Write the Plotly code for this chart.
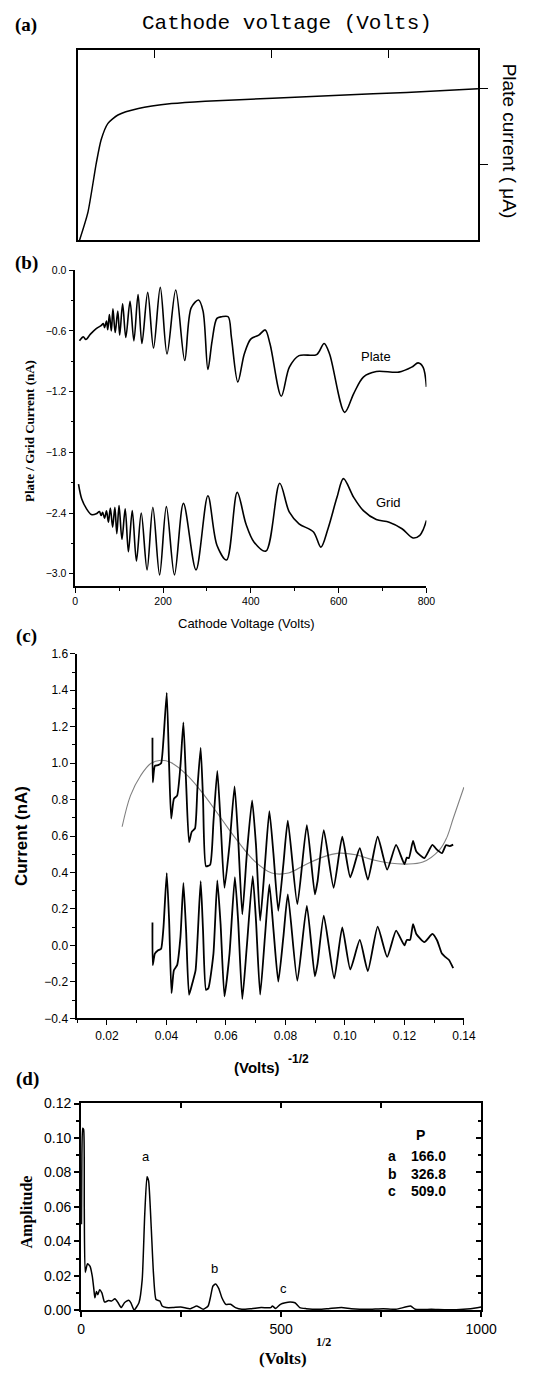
import plotly.graph_objects as go

W, H = 546, 1374

# ---------------- data ----------------
# (a) characteristic curve (arbitrary units)
a_voltage = [5, 26, 47, 59, 76, 101, 152, 235, 319, 487, 654, 822, 1000]
a_current = [0.0, 0.147, 0.407, 0.529, 0.615, 0.659, 0.693, 0.719, 0.732, 0.747, 0.763, 0.778, 0.797]
a_xticks = [193, 485, 777]
a_yticks = [0.4, 0.8]

# (b) plate / grid current vs cathode voltage
plate_v = [9.5, 18.3, 24.2, 34.5, 47.7, 58.7, 63.8, 66.7, 71.1, 74.0, 77.7, 82.1, 85.8, 90.9, 96.8,
           101.2, 107.8, 115.1, 124.7, 133.5, 143.0, 151.8, 165.0, 178.2, 193.6, 209.0, 228.8,
           249.3, 264.0, 280.9, 291.1, 302.1, 311.7, 322.7, 333.7, 348.3, 355.7, 370.3, 385.0,
           399.7, 418.0, 432.7, 443.7, 469.3, 487.7, 509.7, 550.0, 566.9, 579.3, 613.8, 634.3,
           656.3, 685.7, 737.0, 766.3, 781.0, 792.5, 800.0]
plate_i = [-0.698, -0.659, -0.685, -0.632, -0.577, -0.548, -0.528, -0.567, -0.502, -0.587, -0.437,
           -0.600, -0.382, -0.616, -0.404, -0.642, -0.333, -0.665, -0.307, -0.698, -0.241, -0.724,
           -0.219, -0.769, -0.170, -0.828, -0.196, -0.893, -0.372, -0.294, -0.404, -0.981, -0.698,
           -0.476, -0.460, -0.460, -0.665, -1.105, -0.828, -0.681, -0.642, -0.590, -0.730, -1.245,
           -0.958, -0.844, -0.834, -0.724, -0.828, -1.405, -1.219, -1.056, -1.001, -1.007, -0.958,
           -0.916, -0.960, -1.153]
grid_v = [7.3, 14.7, 25.7, 36.7, 47.7, 55.0, 58.7, 62.3, 66.7, 71.1, 75.5, 79.9, 85.1, 90.2, 94.6,
          99.7, 106.3, 113.7, 121.0, 129.8, 139.3, 150.3, 163.5, 176.7, 192.1, 207.5, 225.9, 246.4,
          275.0, 302.1, 322.7, 344.7, 368.9, 388.7, 407.0, 434.2, 465.7, 487.7, 509.7, 542.7,
          559.5, 575.7, 596.2, 610.9, 634.3, 656.3, 685.7, 715.0, 744.3, 769.5, 785.0, 793.0, 800.0]
grid_i = [-2.115, -2.262, -2.359, -2.415, -2.408, -2.385, -2.425, -2.392, -2.451, -2.379, -2.490,
          -2.350, -2.539, -2.343, -2.604, -2.327, -2.659, -2.359, -2.783, -2.376, -2.874, -2.399,
          -2.962, -2.343, -3.011, -2.337, -3.011, -2.304, -2.962, -2.229, -2.718, -2.864, -2.196,
          -2.506, -2.685, -2.776, -2.105, -2.392, -2.506, -2.587, -2.737, -2.555, -2.245, -2.060,
          -2.245, -2.376, -2.464, -2.490, -2.555, -2.646, -2.620, -2.560, -2.473]

# (c) current vs V^-1/2
upper_x = [0.0353, 0.0354, 0.0361, 0.0372, 0.0382, 0.0390, 0.0401, 0.0409, 0.0416, 0.0425, 0.0436,
           0.0447, 0.0457, 0.0466, 0.0476, 0.0485, 0.0496, 0.0504, 0.0515, 0.0523, 0.0533, 0.0547,
           0.0558, 0.0571, 0.0582, 0.0595, 0.0612, 0.0629, 0.0641, 0.0655, 0.0670, 0.0688, 0.0701,
           0.0715, 0.0731, 0.0746, 0.0760, 0.0776, 0.0793, 0.0808, 0.0840, 0.0872, 0.0899, 0.0908,
           0.0929, 0.0962, 0.0991, 0.1018, 0.1050, 0.1077, 0.1110, 0.1142, 0.1172, 0.1200, 0.1208,
           0.1215, 0.1229, 0.1240, 0.1267, 0.1294, 0.1310, 0.1326, 0.1340, 0.1352, 0.1364]
upper_y = [1.139, 0.895, 0.985, 0.989, 0.999, 1.130, 1.386, 0.985, 0.696, 0.804, 0.822, 0.985, 1.224,
           0.895, 0.566, 0.623, 0.642, 0.858, 1.084, 0.804, 0.434, 0.443, 0.678, 0.958, 0.678, 0.316,
           0.551, 0.873, 0.587, 0.171, 0.497, 0.795, 0.551, 0.136, 0.443, 0.737, 0.497, 0.190, 0.443,
           0.684, 0.226, 0.660, 0.280, 0.352, 0.632, 0.316, 0.596, 0.374, 0.533, 0.361, 0.596, 0.416,
           0.551, 0.446, 0.482, 0.479, 0.573, 0.515, 0.479, 0.551, 0.524, 0.506, 0.550, 0.545, 0.553]
lower_x = [0.0353, 0.0354, 0.0361, 0.0372, 0.0382, 0.0390, 0.0401, 0.0409, 0.0417, 0.0425, 0.0436,
           0.0447, 0.0457, 0.0466, 0.0476, 0.0487, 0.0498, 0.0515, 0.0523, 0.0533, 0.0541, 0.0558,
           0.0571, 0.0582, 0.0595, 0.0612, 0.0630, 0.0641, 0.0655, 0.0670, 0.0690, 0.0701, 0.0715,
           0.0731, 0.0746, 0.0760, 0.0776, 0.0793, 0.0808, 0.0840, 0.0872, 0.0899, 0.0908, 0.0929,
           0.0964, 0.0991, 0.1018, 0.1050, 0.1077, 0.1110, 0.1142, 0.1172, 0.1200, 0.1208, 0.1219,
           0.1229, 0.1240, 0.1267, 0.1294, 0.1310, 0.1326, 0.1337, 0.1350, 0.1364]
lower_y = [0.126, -0.108, -0.045, -0.027, -0.018, 0.099, 0.397, 0.136, -0.262, -0.136, -0.108, 0.045,
           0.343, 0.081, -0.271, -0.208, -0.136, 0.352, 0.081, -0.244, -0.235, -0.045, 0.356, 0.117,
           -0.280, -0.045, 0.374, 0.136, -0.295, -0.009, 0.380, 0.136, -0.270, 0.045, 0.334, 0.081,
           -0.199, 0.045, 0.280, -0.194, 0.217, -0.170, -0.100, 0.163, -0.181, 0.099, -0.132, 0.030,
           -0.141, 0.103, -0.063, 0.081, 0.000, 0.030, 0.030, 0.117, 0.063, 0.018, 0.063, 0.027,
           -0.045, -0.063, -0.080, -0.125]
fit_x = [0.0251, 0.0279, 0.0313, 0.0347, 0.0381, 0.0415, 0.0471, 0.0528, 0.0584, 0.0641, 0.0697,
         0.0754, 0.0810, 0.0867, 0.0923, 0.0980, 0.1036, 0.1093, 0.1149, 0.1206, 0.1262, 0.1318,
         0.1342, 0.1364, 0.1400]
fit_y = [0.651, 0.822, 0.931, 0.998, 1.016, 1.003, 0.931, 0.822, 0.696, 0.569, 0.461, 0.397, 0.397,
         0.443, 0.483, 0.506, 0.497, 0.470, 0.452, 0.446, 0.457, 0.524, 0.590, 0.696, 0.868]

# (d) Fourier amplitude spectrum
freq = [1, 2, 4, 6.4, 8, 10.4, 16, 22.5, 28.1, 32.1, 34.5, 38.5, 41.7, 46.5, 52.3, 58.7, 68.4, 76.4,
        84.5, 92.5, 100.5, 108.5, 119, 124.6, 132.6, 144.7, 152.8, 159.2, 164.8, 168.8, 175.3,
        180.9, 187.3, 197, 202.6, 213, 229.1, 249.2, 273.3, 289.4, 305.4, 317.5, 323.9, 329.5,
        335.9, 344, 352, 361.7, 373.7, 385.8, 401.9, 426, 450.1, 474.2, 478.2, 486.3, 498.3,
        510.4, 522.4, 534.5, 546.5, 562.6, 594.7, 618.8, 650.9, 675, 715.2, 755.3, 787.4, 823.5,
        835.6, 875.7, 915.9, 956, 990, 1000]
amp = [0.05, 0.09, 0.1057, 0.105, 0.06, 0.022, 0.027, 0.0255, 0.0197, 0.012, 0.0073, 0.0109, 0.0091,
       0.012, 0.010, 0.0048, 0.0057, 0.0054, 0.0067, 0.0044, 0.0016, 0.0044, 0.0059, 0.0044, 0.0002,
       0.0044, 0.0178, 0.056, 0.0776, 0.0751, 0.0484, 0.0216, 0.0063, 0.0054, 0.0025, 0.0016,
       0.0016, 0.002, 0.001, 0.0025, 0.0006, 0.0025, 0.0082, 0.014, 0.0153, 0.0128, 0.0073, 0.0035,
       0.0035, 0.0016, 0.0006, 0.001, 0.0016, 0.0016, 0.0025, 0.0011, 0.0035, 0.0044, 0.0048,
       0.0044, 0.0016, 0.001, 0.0006, 0.001, 0.0016, 0.001, 0.0006, 0.001, 0.0006, 0.0025, 0.0006,
       0.0006, 0.0003, 0.0006, 0.0015, 0.002]
peak_labels = ["a", "b", "c"]
peak_pos = [163, 333, 506]
peak_lab_y = [0.0894, 0.0245, 0.0124]
peak_P = ["166.0", "326.8", "509.0"]
d_xticks = [0, 250, 500, 750, 1000]
d_xticktext = ["0", "", "500", "", "1000"]
d_yticks = [0, 0.02, 0.04, 0.06, 0.08, 0.10, 0.12]

# ---------------- figure ----------------
SANS = "Liberation Sans, Arial, sans-serif"
SERIF = "Liberation Serif, Times New Roman, serif"
MONO = "Liberation Mono, Courier New, monospace"
BLACK = "black"

fig = go.Figure()
fig.add_trace(go.Scatter(x=a_voltage, y=a_current, mode="lines", xaxis="x", yaxis="y",
                         line=dict(color=BLACK, width=1.5, shape="spline", smoothing=0.6)))
fig.add_trace(go.Scatter(x=plate_v, y=plate_i, mode="lines", xaxis="x2", yaxis="y2",
                         line=dict(color=BLACK, width=1.6, shape="spline", smoothing=0.9)))
fig.add_trace(go.Scatter(x=grid_v, y=grid_i, mode="lines", xaxis="x2", yaxis="y2",
                         line=dict(color=BLACK, width=1.6, shape="spline", smoothing=0.9)))
fig.add_trace(go.Scatter(x=fit_x, y=fit_y, mode="lines", xaxis="x3", yaxis="y3",
                         line=dict(color="#808080", width=1.1, shape="spline", smoothing=1.0)))
fig.add_trace(go.Scatter(x=upper_x, y=upper_y, mode="lines", xaxis="x3", yaxis="y3",
                         line=dict(color=BLACK, width=1.8, shape="spline", smoothing=0.5)))
fig.add_trace(go.Scatter(x=lower_x, y=lower_y, mode="lines", xaxis="x3", yaxis="y3",
                         line=dict(color=BLACK, width=1.8, shape="spline", smoothing=0.5)))
fig.add_trace(go.Scatter(x=freq, y=amp, mode="lines", xaxis="x4", yaxis="y4",
                         line=dict(color=BLACK, width=1.5, shape="spline", smoothing=0.5)))
# invisible carrier for the top/right (inside-tick) frame axes of panel (d)
fig.add_trace(go.Scatter(x=[freq[0], freq[-1]], y=[amp[0], amp[-1]], mode="markers",
                         xaxis="x5", yaxis="y5", marker=dict(opacity=0), hoverinfo="skip"))


def dx(p0, p1):
    return [p0 / W, p1 / W]


def dy(top, bottom):
    return [1 - bottom / H, 1 - top / H]


tickfont_b = dict(family=SANS, size=10.5, color=BLACK)
tickfont_c = dict(family=SANS, size=12, color=BLACK)
tickfont_d = dict(family=SANS, size=14, color=BLACK)
common = dict(showgrid=False, zeroline=False, showline=True, linecolor=BLACK, tickcolor=BLACK)
D_X = dx(80, 495.3)
D_Y = dy(1108.3, 1317.7)

fig.update_layout(
    width=W, height=H, margin=dict(l=0, r=0, t=0, b=0),
    paper_bgcolor="white", plot_bgcolor="white", showlegend=False,
    # (a)
    xaxis=dict(domain=dx(76.3, 492), anchor="y", range=[0, 1000], side="top", ticks="inside",
               ticklen=8, tickwidth=1.2, tickvals=a_xticks, showticklabels=False, mirror=True,
               linewidth=1.5, **common),
    yaxis=dict(domain=dy(42.7, 235), anchor="x", range=[0, 1], side="right", ticks="outside",
               ticklen=8, tickwidth=1.2, tickvals=a_yticks, showticklabels=False, mirror=True,
               linewidth=1.5, **common),
    # (b)
    xaxis2=dict(domain=dx(74, 438.5), anchor="y2", range=[0, 800], tick0=0, dtick=200,
                ticks="outside", ticklen=5, tickwidth=1.2, tickfont=tickfont_b, linewidth=1.5,
                minor=dict(dtick=100, ticks="outside", ticklen=3, tickcolor=BLACK),
                **common),
    yaxis2=dict(domain=dy(265.3, 584.7), anchor="x2", range=[-3.12, 0.0], tick0=0, dtick=0.6,
                tickformat=".1f", ticks="outside", ticklen=5, tickwidth=1.2, tickfont=tickfont_b,
                linewidth=1.5, minor=dict(dtick=0.3, ticks="outside", ticklen=3, tickcolor=BLACK),
                **common),
    # (c)
    xaxis3=dict(domain=dx(76, 477.7), anchor="y3", range=[0.01, 0.1401], tick0=0, dtick=0.02,
                tickformat=".2f", ticks="outside", ticklen=5, tickwidth=1.2, tickfont=tickfont_c,
                linewidth=1.5, minor=dict(dtick=0.01, ticks="outside", ticklen=3, tickcolor=BLACK),
                **common),
    yaxis3=dict(domain=dy(653.3, 1022.3), anchor="x3", range=[-0.4005, 1.6005], tick0=0, dtick=0.2,
                tickformat=".1f", ticks="outside", ticklen=5, tickwidth=1.2, tickfont=tickfont_c,
                linewidth=1.5, minor=dict(dtick=0.1, ticks="outside", ticklen=3, tickcolor=BLACK),
                **common),
    # (d)
    xaxis4=dict(domain=D_X, anchor="y4", range=[0, 1000], tickvals=d_xticks, ticktext=d_xticktext,
                ticks="outside", ticklen=5, tickwidth=1.5, tickfont=tickfont_d, mirror=True,
                linewidth=2, **common),
    yaxis4=dict(domain=D_Y, anchor="x4", range=[0, 0.1201], tickvals=d_yticks, tickformat=".2f",
                ticks="outside", ticklen=5, tickwidth=1.5, tickfont=tickfont_d, mirror=True,
                linewidth=2, minor=dict(dtick=0.01, ticks="outside", ticklen=3, tickcolor=BLACK),
                **common),
    xaxis5=dict(domain=D_X, anchor="y5", range=[0, 1000], side="top", overlaying="x4",
                tickvals=d_xticks[1:-1], ticks="inside", ticklen=5, tickwidth=1.5,
                showticklabels=False, showgrid=False, zeroline=False, showline=False,
                tickcolor=BLACK),
    yaxis5=dict(domain=D_Y, anchor="x5", range=[0, 0.1201], side="right", overlaying="y4",
                tickvals=d_yticks, ticks="inside", ticklen=5, tickwidth=1.5,
                showticklabels=False, showgrid=False, zeroline=False, showline=False,
                tickcolor=BLACK,
                minor=dict(dtick=0.01, ticks="inside", ticklen=3, tickcolor=BLACK)),
)


def pann(text, px, py, size, family, angle=0, xanchor="center", yanchor="middle"):
    return dict(text=text, x=px / W, y=1 - py / H, xref="paper", yref="paper", showarrow=False,
                font=dict(family=family, size=size, color=BLACK), textangle=angle,
                xanchor=xanchor, yanchor=yanchor)


anns = [
    pann("<b>(a)</b>", 23, 17, 19, SERIF),
    pann("<b>(b)</b>", 23, 258, 19, SERIF),
    pann("<b>(c)</b>", 23, 635, 19, SERIF),
    pann("<b>(d)</b>", 24, 1084, 19, SERIF),
    pann("Cathode voltage (Volts)", 294, 16, 21, MONO),
    pann("Plate current ( μA)", 525, 135, 19, SANS, angle=90),
    pann("<b>Plate / Grid Current (nA)</b>", 26, 428, 13, SERIF, angle=-90),
    pann("Cathode Voltage (Volts)", 252, 623, 13, SANS),
    pann("<b>Current (nA)</b>", 17.5, 838, 17, SANS, angle=-90),
    pann("<b>(Volts)</b>", 263, 1072, 15, SANS),
    pann("<b>-1/2</b>", 306, 1063, 12, SANS),
    pann("<b>Amplitude</b>", 23.5, 1218, 16, SERIF, angle=-90),
    pann("<b>(Volts)</b>", 290, 1366, 17, SERIF),
    pann("<b>1/2</b>", 332, 1350, 12, SERIF),
]

# data-positioned labels
anns.append(dict(text="Plate", x=686, y=-0.857, xref="x2", yref="y2", showarrow=False,
                 font=dict(family=SANS, size=13, color=BLACK)))
anns.append(dict(text="Grid", x=713, y=-2.294, xref="x2", yref="y2", showarrow=False,
                 font=dict(family=SANS, size=13, color=BLACK)))
for lab, xp, yp in zip(peak_labels, peak_pos, peak_lab_y):
    anns.append(dict(text=lab, x=xp, y=yp, xref="x4", yref="y4", showarrow=False,
                     font=dict(family=SANS, size=13, color=BLACK)))
TAB = "Liberation Sans Narrow, Liberation Sans, Arial, sans-serif"
anns.append(dict(text="<b>P</b>", x=848, y=0.1019, xref="x4", yref="y4", showarrow=False,
                 font=dict(family=TAB, size=14, color=BLACK)))
row_y = [0.0898, 0.0794, 0.0690]
for lab, val, yp in zip(peak_labels, peak_P, row_y):
    anns.append(dict(text="<b>" + lab + "</b>", x=778, y=yp, xref="x4", yref="y4", showarrow=False,
                     font=dict(family=TAB, size=14, color=BLACK)))
    anns.append(dict(text="<b>" + val + "</b>", x=868, y=yp, xref="x4", yref="y4", showarrow=False,
                     font=dict(family=TAB, size=14, color=BLACK)))

fig.update_layout(annotations=anns)
fig.write_html("out.html", config={"displayModeBar": False},
               post_script="document.body.style.margin='0';document.body.style.overflow='hidden';")
